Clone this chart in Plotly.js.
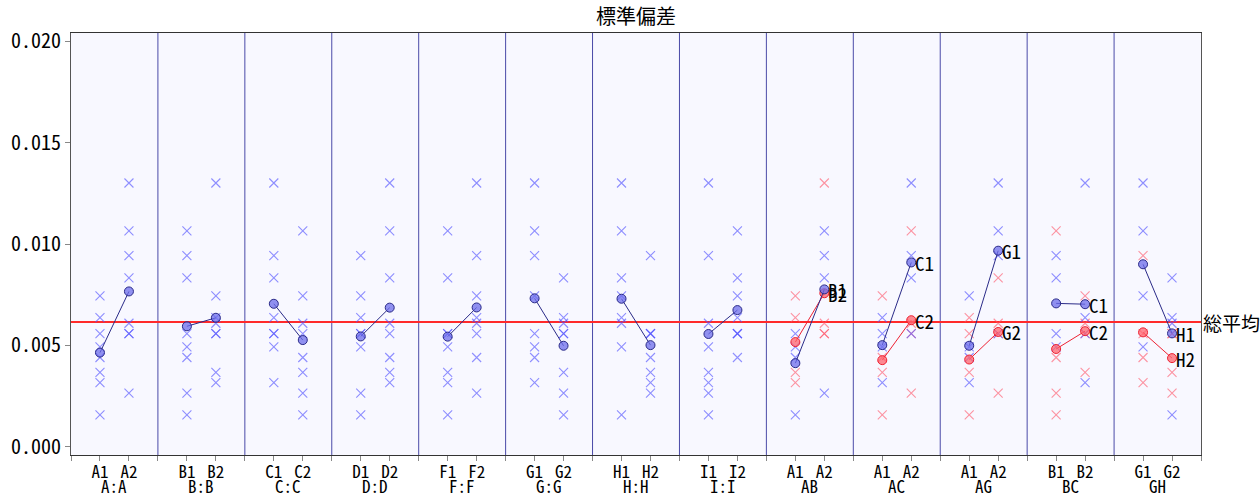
<!DOCTYPE html>
<html>
<head>
<meta charset="utf-8">
<script src="https://cdn.plot.ly/plotly-3.0.1.min.js"></script>
<style>html,body{margin:0;padding:0;background:#fff;}#chart{width:1260px;height:497px;}</style>
</head>
<body>
<div id="chart"></div>
<script>
// ---- data ----
const chartTitle = "標準偏差";
const grandMeanLabel = "総平均";
const grandMean = 0.00615;

const panelNames = ["A:A","B:B","C:C","D:D","F:F","G:G","H:H","I:I","AB","AC","AG","BC","GH"];
const levelNames = [["A1","A2"],["B1","B2"],["C1","C2"],["D1","D2"],["F1","F2"],["G1","G2"],["H1","H2"],["I1","I2"],
                    ["A1","A2"],["A1","A2"],["A1","A2"],["B1","B2"],["G1","G2"]];

// main effects: observations at level 1 / level 2
const mainLevel1Obs = [
  [0.00744,0.00637,0.00558,0.00492,0.00440,0.00367,0.00316,0.00157], // A1
  [0.01065,0.00943,0.00833,0.00558,0.00492,0.00440,0.00264,0.00157], // B1
  [0.01301,0.00943,0.00833,0.00637,0.00558,0.00558,0.00492,0.00316], // C1
  [0.00943,0.00744,0.00637,0.00558,0.00558,0.00492,0.00264,0.00157], // D1
  [0.01065,0.00833,0.00558,0.00558,0.00492,0.00367,0.00316,0.00157], // F1
  [0.01301,0.01065,0.00943,0.00744,0.00558,0.00492,0.00440,0.00316], // G1
  [0.01301,0.01065,0.00833,0.00744,0.00637,0.00609,0.00492,0.00157], // H1
  [0.01301,0.00943,0.00609,0.00492,0.00367,0.00316,0.00264,0.00157]  // I1
];
const mainLevel2Obs = [
  [0.01301,0.01065,0.00943,0.00833,0.00609,0.00558,0.00558,0.00264], // A2
  [0.01301,0.00744,0.00637,0.00609,0.00558,0.00558,0.00367,0.00316], // B2
  [0.01065,0.00744,0.00609,0.00558,0.00440,0.00367,0.00264,0.00157], // C2
  [0.01301,0.01065,0.00833,0.00609,0.00558,0.00440,0.00367,0.00316], // D2
  [0.01301,0.00943,0.00744,0.00637,0.00609,0.00558,0.00440,0.00264], // F2
  [0.00833,0.00637,0.00609,0.00558,0.00558,0.00367,0.00264,0.00157], // G2
  [0.00943,0.00558,0.00558,0.00558,0.00440,0.00367,0.00316,0.00264], // H2
  [0.01065,0.00833,0.00744,0.00637,0.00558,0.00558,0.00558,0.00440]  // I2
];
const mainMeans = [
  [0.00464,0.00766],[0.00594,0.00636],[0.00705,0.00526],[0.00544,0.00686],
  [0.00543,0.00687],[0.00732,0.00498],[0.00730,0.00501],[0.00556,0.00674]
];

// two-factor interactions (AB, AC, AG, BC, GH): blue = 2nd factor level 1, red = level 2
const interBlueObs = [
  [[0.00558,0.00492,0.00440,0.00157],[0.01065,0.00943,0.00833,0.00264]],
  [[0.00637,0.00558,0.00492,0.00316],[0.01301,0.00943,0.00833,0.00558]],
  [[0.00744,0.00492,0.00440,0.00316],[0.01301,0.01065,0.00943,0.00558]],
  [[0.00943,0.00833,0.00558,0.00492],[0.01301,0.00637,0.00558,0.00316]],
  [[0.01301,0.01065,0.00744,0.00492],[0.00833,0.00637,0.00609,0.00157]]
];
const interRedObs = [
  [[0.00744,0.00637,0.00367,0.00316],[0.01301,0.00609,0.00558,0.00558]],
  [[0.00744,0.00440,0.00367,0.00157],[0.01065,0.00609,0.00558,0.00264]],
  [[0.00637,0.00558,0.00367,0.00157],[0.00833,0.00609,0.00558,0.00264]],
  [[0.01065,0.00440,0.00264,0.00157],[0.00744,0.00609,0.00558,0.00367]],
  [[0.00943,0.00558,0.00440,0.00316],[0.00558,0.00558,0.00367,0.00264]]
];
const interBlueMeans = [[0.00412,0.00776],[0.00501,0.00909],[0.00498,0.00967],[0.00707,0.00703],[0.00900,0.00559]];
const interRedMeans  = [[0.00516,0.00757],[0.00427,0.00624],[0.00430,0.00566],[0.00482,0.00570],[0.00564,0.00437]];
const interBlueLabels = ["B1","C1","G1","C1","H1"];
const interRedLabels  = ["B2","C2","G2","C2","H2"];

const yTickVals = [0, 0.005, 0.010, 0.015, 0.020];

// ---- styles ----
const FONT = '"Noto Sans Mono CJK JP", "Noto Sans CJK JP", "DejaVu Sans Mono", monospace';
const BLUE_X = 'rgba(85,85,255,0.65)';
const RED_X = 'rgba(255,80,100,0.6)';
const BLUE_FILL = 'rgba(110,110,235,0.75)';
const BLUE_EDGE = '#2a2a88';
const RED_FILL = 'rgba(255,100,110,0.75)';
const RED_EDGE = '#ee2233';

const nMain = mainMeans.length;
const nPanels = panelNames.length;
const pos = (panel, lvl) => 3 * panel + 1 + lvl;

const traces = [];
// crosses
const bx = [], by = [], rx = [], ry = [];
for (let i = 0; i < nMain; i++) {
  mainLevel1Obs[i].forEach(v => { bx.push(pos(i,0)); by.push(v); });
  mainLevel2Obs[i].forEach(v => { bx.push(pos(i,1)); by.push(v); });
}
for (let k = 0; k < interBlueObs.length; k++) {
  const p = nMain + k;
  for (let l = 0; l < 2; l++) {
    interBlueObs[k][l].forEach(v => { bx.push(pos(p,l)); by.push(v); });
    interRedObs[k][l].forEach(v => { rx.push(pos(p,l)); ry.push(v); });
  }
}
traces.push({x: rx, y: ry, mode: 'markers', type: 'scatter',
  marker: {symbol: 'x-thin', size: 9, line: {width: 1.1, color: RED_X}}, hoverinfo: 'skip'});
traces.push({x: bx, y: by, mode: 'markers', type: 'scatter',
  marker: {symbol: 'x-thin', size: 9, line: {width: 1.1, color: BLUE_X}}, hoverinfo: 'skip'});

// mean lines
function meanTrace(p, vals, fill, edge) {
  return {x: [pos(p,0), pos(p,1)], y: vals, mode: 'lines+markers', type: 'scatter',
    line: {color: edge, width: 1},
    marker: {size: 9, color: fill, line: {color: edge, width: 1}}, hoverinfo: 'skip'};
}
for (let i = 0; i < nMain; i++) traces.push(meanTrace(i, mainMeans[i], BLUE_FILL, BLUE_EDGE));
for (let k = 0; k < interBlueMeans.length; k++) {
  traces.push(meanTrace(nMain + k, interRedMeans[k], RED_FILL, RED_EDGE));
  traces.push(meanTrace(nMain + k, interBlueMeans[k], BLUE_FILL, BLUE_EDGE));
}

// ticks
const tickvals = [], ticktext = [];
for (let p = 0; p <= nPanels * 3; p++) {
  tickvals.push(p);
  const m = p % 3;
  const panel = Math.floor(p / 3);
  ticktext.push(m === 0 || panel >= nPanels ? '' : levelNames[panel][m - 1]);
}

const shapes = [];
for (let p = 1; p < nPanels; p++) {
  shapes.push({type: 'line', xref: 'x', yref: 'paper', x0: 3*p, x1: 3*p, y0: 0, y1: 1,
    line: {color: '#4a4aa8', width: 1}, layer: 'below'});
}
shapes.push({type: 'line', xref: 'paper', yref: 'y', x0: 0, x1: 1, y0: grandMean, y1: grandMean,
  line: {color: '#ff2a2a', width: 2}, layer: 'below'});

const annotations = [];
panelNames.forEach((n, i) => annotations.push({
  x: 3*i + 1.5, xref: 'x', y: 0, yref: 'paper', yanchor: 'middle', yshift: -30,
  text: n, showarrow: false, borderpad: 0, font: {size: 17, color: '#000', family: FONT}
}));
for (let k = 0; k < interBlueMeans.length; k++) {
  const p = nMain + k;
  annotations.push({x: pos(p,1), y: interBlueMeans[k][1], xref: 'x', yref: 'y', xanchor: 'left', xshift: 2,
    text: interBlueLabels[k], showarrow: false, font: {size: 19, color: '#000', family: FONT}});
  annotations.push({x: pos(p,1), y: interRedMeans[k][1], xref: 'x', yref: 'y', xanchor: 'left', xshift: 2,
    text: interRedLabels[k], showarrow: false, font: {size: 19, color: '#000', family: FONT}});
}
annotations.push({x: 1, xref: 'paper', y: grandMean, yref: 'y', xanchor: 'left', xshift: 0,
  text: grandMeanLabel, showarrow: false, font: {size: 19, color: '#000', family: FONT}});

const layout = {
  width: 1260, height: 497,
  margin: {l: 71, r: 59, t: 33, b: 42, pad: 0},
  paper_bgcolor: '#ffffff', plot_bgcolor: '#f8f8ff',
  showlegend: false,
  title: {text: chartTitle, xref: 'paper', x: 0.5, xanchor: 'center', yref: 'container', y: 0.965, yanchor: 'middle',
    font: {size: 20, color: '#000', family: FONT}},
  font: {family: FONT, color: '#000'},
  xaxis: {range: [0, nPanels * 3], tickmode: 'array', tickvals: tickvals, ticktext: ticktext,
    ticks: 'outside', ticklen: 5, tickcolor: '#888', showgrid: false, zeroline: false, ticklabelstandoff: -3,
    showline: true, linecolor: '#333', mirror: true, tickfont: {size: 17, family: FONT}, fixedrange: true},
  yaxis: {range: [-0.00041, 0.02041], tickvals: yTickVals, tickformat: '.3f',
    ticks: 'outside', ticklen: 5, tickcolor: '#888', showgrid: false, zeroline: false,
    showline: true, linecolor: '#555', mirror: true, tickfont: {size: 20, family: FONT}, fixedrange: true},
  shapes: shapes, annotations: annotations
};

Plotly.newPlot('chart', traces, layout, {displayModeBar: false, staticPlot: true});
</script>
</body>
</html>
